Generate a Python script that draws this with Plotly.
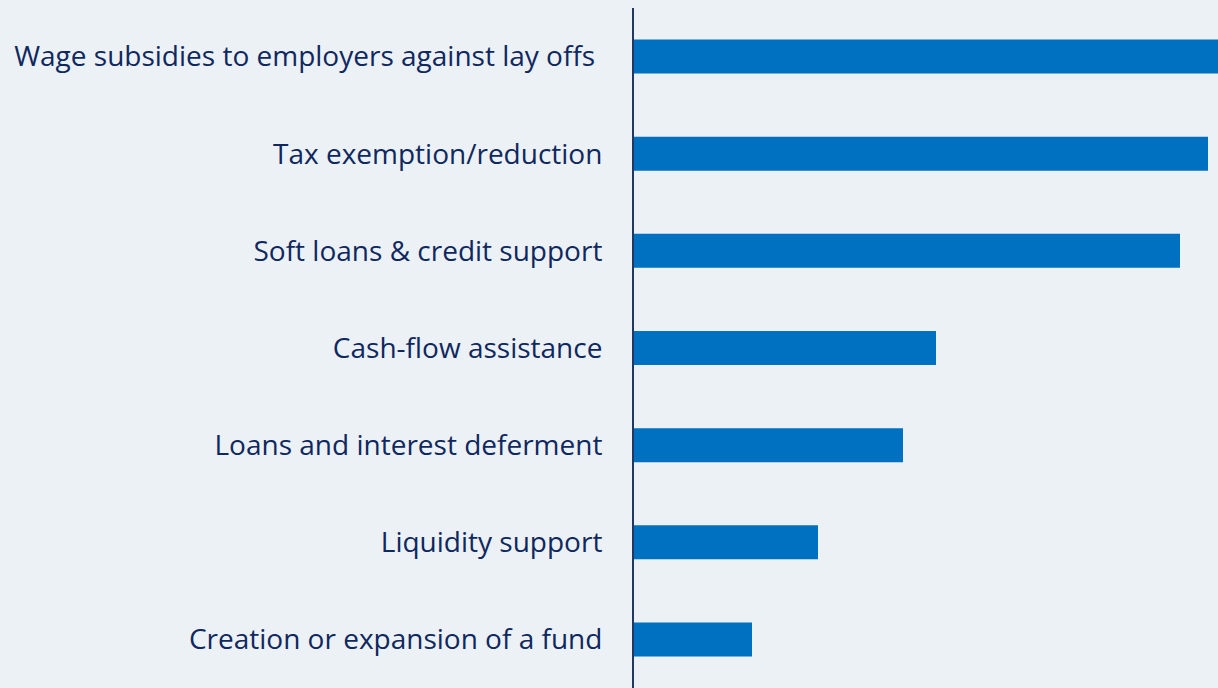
import plotly.graph_objects as go

# Support measures, listed top to bottom
measures = [
    "Wage subsidies to employers against lay offs\u00a0",
    "Tax exemption/reduction",
    "Soft loans & credit support",
    "Cash-flow assistance",
    "Loans and interest deferment",
    "Liquidity support",
    "Creation or expansion of a fund",
]
# Relative frequency of each measure
shares = [60.0, 57.4, 54.6, 30.2, 26.9, 18.4, 11.8]

bg = "#ECF1F5"
bar_color = "#0070C0"
text_color = "#0F2860"
axis_color = "#1F3864"

fig = go.Figure(
    go.Bar(
        x=shares,
        y=measures,
        orientation="h",
        marker=dict(color=bar_color, line=dict(width=0)),
        width=0.35,
        hoverinfo="skip",
    )
)

fig.update_layout(
    width=1218,
    height=688,
    margin=dict(l=634, r=0, t=8, b=0),
    paper_bgcolor=bg,
    plot_bgcolor=bg,
    showlegend=False,
    font=dict(family="'Open Sans', sans-serif", size=28, color=text_color),
)

fig.update_xaxes(
    range=[0, 58.4],
    visible=False,
    showgrid=False,
    zeroline=False,
)

fig.update_yaxes(
    autorange="reversed",
    showline=True,
    linecolor=axis_color,
    linewidth=2,
    showgrid=False,
    zeroline=False,
    ticks="",
    ticklabelstandoff=24,
    tickfont=dict(size=28, color=text_color),
)

fig.write_html("out.html")
